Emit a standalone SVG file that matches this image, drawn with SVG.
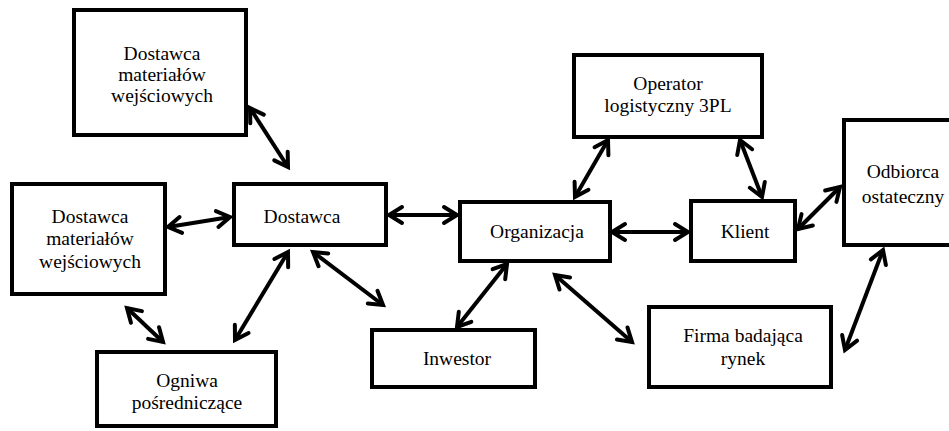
<svg xmlns="http://www.w3.org/2000/svg" width="949" height="431" viewBox="0 0 949 431">
<style>
.box{fill:#fff;stroke:#000;stroke-width:4}
.t{font-family:'Liberation Serif','DejaVu Serif',serif;font-size:19.5px;fill:#000;text-anchor:middle}
.c{stroke:#000;stroke-width:4;fill:none;marker-start:url(#ah);marker-end:url(#ah)}
</style>
<defs>
<marker id="ah" markerUnits="userSpaceOnUse" viewBox="0 0 18 18" refX="15" refY="9" markerWidth="18" markerHeight="18" orient="auto-start-reverse" overflow="visible">
<path d="M2,1 L15,9 L2,17" fill="none" stroke="#000" stroke-width="4" stroke-linecap="round" stroke-linejoin="miter"/>
</marker>
</defs>
<rect width="949" height="431" fill="#fff"/>
<g font-family="Liberation Serif, DejaVu Serif, serif">
<g id="n_top_supplier">
<rect class="box" x="74" y="10" width="172" height="125"/>
<text class="t" x="162" y="60">Dostawca</text>
<text class="t" x="162" y="81">materiałów</text>
<text class="t" x="162" y="102">wejściowych</text>
</g>
<g id="n_left_supplier">
<rect class="box" x="12" y="184" width="153" height="110"/>
<text class="t" x="90" y="223">Dostawca</text>
<text class="t" x="90" y="245">materiałów</text>
<text class="t" x="90" y="268">wejściowych</text>
</g>
<g id="n_dostawca">
<rect class="box" x="234" y="184" width="152" height="61"/>
<text class="t" x="302" y="223">Dostawca</text>
</g>
<g id="n_ogniwa">
<rect class="box" x="97" y="352" width="179" height="74"/>
<text class="t" x="187" y="387">Ogniwa</text>
<text class="t" x="187" y="409">pośredniczące</text>
</g>
<g id="n_inwestor">
<rect class="box" x="372" y="330" width="163" height="57"/>
<text class="t" x="457" y="365">Inwestor</text>
</g>
<g id="n_organizacja">
<rect class="box" x="460" y="202" width="150" height="59"/>
<text class="t" x="537" y="238">Organizacja</text>
</g>
<g id="n_operator">
<rect class="box" x="574" y="55" width="188" height="82"/>
<text class="t" x="668" y="90">Operator</text>
<text class="t" x="668" y="112">logistyczny 3PL</text>
</g>
<g id="n_klient">
<rect class="box" x="691" y="201" width="104" height="60"/>
<text class="t" x="745" y="238">Klient</text>
</g>
<g id="n_odbiorca">
<rect class="box" x="844" y="120" width="120" height="125"/>
<text class="t" x="903" y="178">Odbiorca</text>
<text class="t" x="903" y="203">ostateczny</text>
</g>
<g id="n_firma">
<rect class="box" x="649" y="307" width="182" height="80"/>
<text class="t" x="743" y="342">Firma badająca</text>
<text class="t" x="743" y="365">rynek</text>
</g>
</g>
<g id="connectors">
<line class="c" x1="250" y1="108" x2="288" y2="167"/>
<line class="c" x1="168" y1="227" x2="230" y2="217"/>
<line class="c" x1="389" y1="215" x2="457" y2="215"/>
<line class="c" x1="313" y1="252" x2="383" y2="305"/>
<line class="c" x1="288" y1="252" x2="235" y2="340"/>
<line class="c" x1="127" y1="308" x2="163" y2="342"/>
<line class="c" x1="507" y1="264" x2="457" y2="327"/>
<line class="c" x1="555" y1="275" x2="632" y2="342"/>
<line class="c" x1="612" y1="232" x2="688" y2="232"/>
<line class="c" x1="575" y1="197" x2="608" y2="140"/>
<line class="c" x1="740" y1="140" x2="762" y2="197"/>
<line class="c" x1="798" y1="229" x2="840" y2="187"/>
<line class="c" x1="883" y1="250" x2="845" y2="350"/>
</g>
</svg>
